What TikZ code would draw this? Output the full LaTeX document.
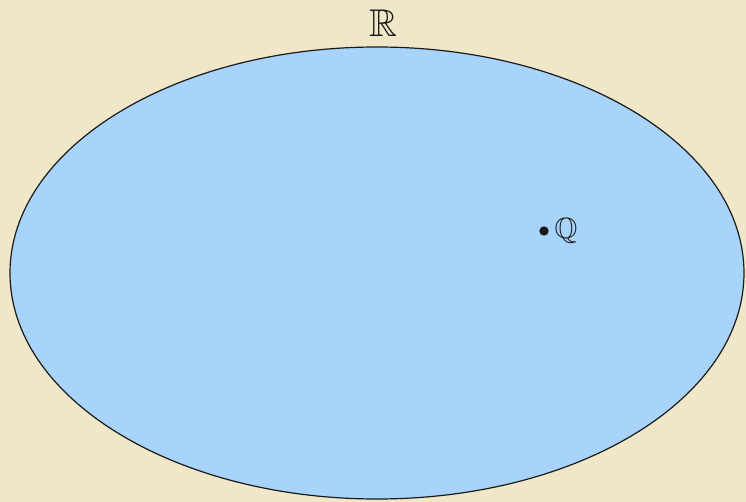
\documentclass[tikz,border=0pt]{standalone}
\usepackage{amssymb}
\usetikzlibrary{positioning}
\definecolor{stback}{HTML}{F0E6C8}
\definecolor{stblue}{HTML}{A8D3FA}
\definecolor{stink}{HTML}{1A1A1A}
\tikzset{
  st set/.style={draw=stink, line width=0.9pt, fill=stblue},
  st big/.style={font=\fontsize{29}{30}\selectfont, text=stink, inner sep=1pt},
  st small/.style={font=\fontsize{22}{23}\selectfont, text=stink, inner sep=0pt},
  st dot/.style={circle, fill=stink, inner sep=0pt, minimum size=7pt}
}
\begin{document}
\begin{tikzpicture}[x=0.75pt, y=-0.75pt]
  \fill[stback] (0,0) rectangle (746,502);
  \useasboundingbox (0,0) rectangle (746,502);
  \draw[st set] (377,273) ellipse [x radius=367, y radius=226];
  \node[st big] (reals) at (383,23) {$\mathbb{R}$};
  \node[st dot] (q) at (544,231) {};
  \node[st small, right=4pt of q] (rationals) {$\mathbb{Q}$};
\end{tikzpicture}
\end{document}
